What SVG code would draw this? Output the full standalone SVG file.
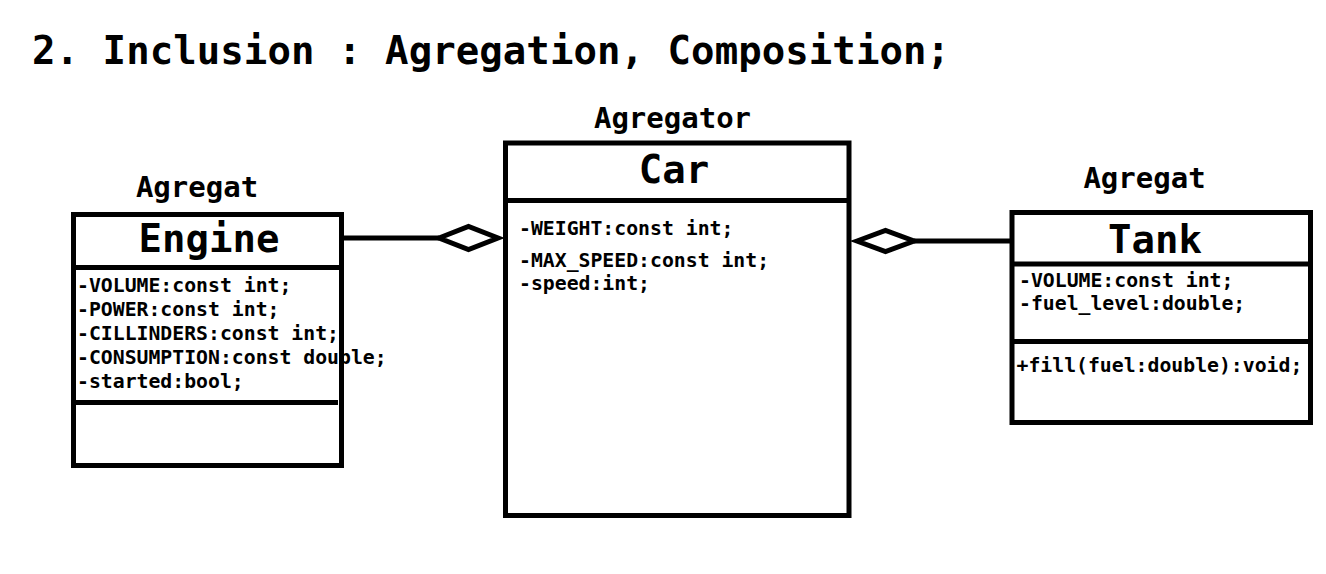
<svg xmlns="http://www.w3.org/2000/svg" width="1326" height="574" viewBox="0 0 1326 574">
<style>
text{font-family:"DejaVu Sans Mono","Liberation Mono",monospace;font-weight:bold;fill:#000}
.title{font-size:39px}
.stereo{font-size:29px;text-anchor:middle}
.name{font-size:39px;text-anchor:middle}
.attr{font-size:19.8px}
.box{fill:#fff;stroke:#000;stroke-width:5}
.div{stroke:#000;stroke-width:5}
.conn{stroke:#000;stroke-width:5;fill:none}
.dia{fill:#fff;stroke:#000;stroke-width:5;stroke-linejoin:miter}
</style>
<rect width="1326" height="574" fill="#fff"/>
<text class="title" x="32" y="64" textLength="918">2. Inclusion : Agregation, Composition;</text>

<g id="engine">
<text class="stereo" x="197" y="197">Agregat</text>
<rect class="box" x="73.5" y="214.5" width="268" height="251"/>
<line class="div" x1="73.5" y1="267.5" x2="341.5" y2="267.5"/>
<line class="div" x1="73.5" y1="402.5" x2="338" y2="402.5"/>
<text class="name" x="209" y="252">Engine</text>
<text class="attr" x="77" y="292">-VOLUME:const int;</text>
<text class="attr" x="77" y="316">-POWER:const int;</text>
<text class="attr" x="77" y="340">-CILLINDERS:const int;</text>
<text class="attr" x="77" y="364">-CONSUMPTION:const double;</text>
<text class="attr" x="77" y="388">-started:bool;</text>
</g>

<g id="car">
<text class="stereo" x="672.5" y="128">Agregator</text>
<rect class="box" x="505.5" y="143" width="343.5" height="372.5"/>
<line class="div" x1="505.5" y1="200.5" x2="849" y2="200.5"/>
<text class="name" x="674" y="183">Car</text>
<text class="attr" x="519" y="235">-WEIGHT:const int;</text>
<text class="attr" x="519" y="267">-MAX_SPEED:const int;</text>
<text class="attr" x="519" y="290">-speed:int;</text>
</g>

<g id="tank">
<text class="stereo" x="1144.5" y="188">Agregat</text>
<rect class="box" x="1012" y="212.5" width="298.5" height="210"/>
<line class="div" x1="1012" y1="264" x2="1310.5" y2="264"/>
<line class="div" x1="1012" y1="341.5" x2="1310.5" y2="341.5"/>
<text class="name" x="1155" y="253">Tank</text>
<text class="attr" x="1019" y="287">-VOLUME:const int;</text>
<text class="attr" x="1019" y="310">-fuel_level:double;</text>
<text class="attr" x="1016.5" y="372">+fill(fuel:double):void;</text>
</g>

<g id="connectors">
<line class="conn" x1="344" y1="238" x2="439" y2="238"/>
<polygon class="dia" points="439,238 468.5,226.5 498,238 468.5,249.5"/>
<line class="conn" x1="914" y1="241" x2="1010" y2="241"/>
<polygon class="dia" points="857,241 885.5,230.5 914,241 885.5,251.5"/>
</g>
</svg>
